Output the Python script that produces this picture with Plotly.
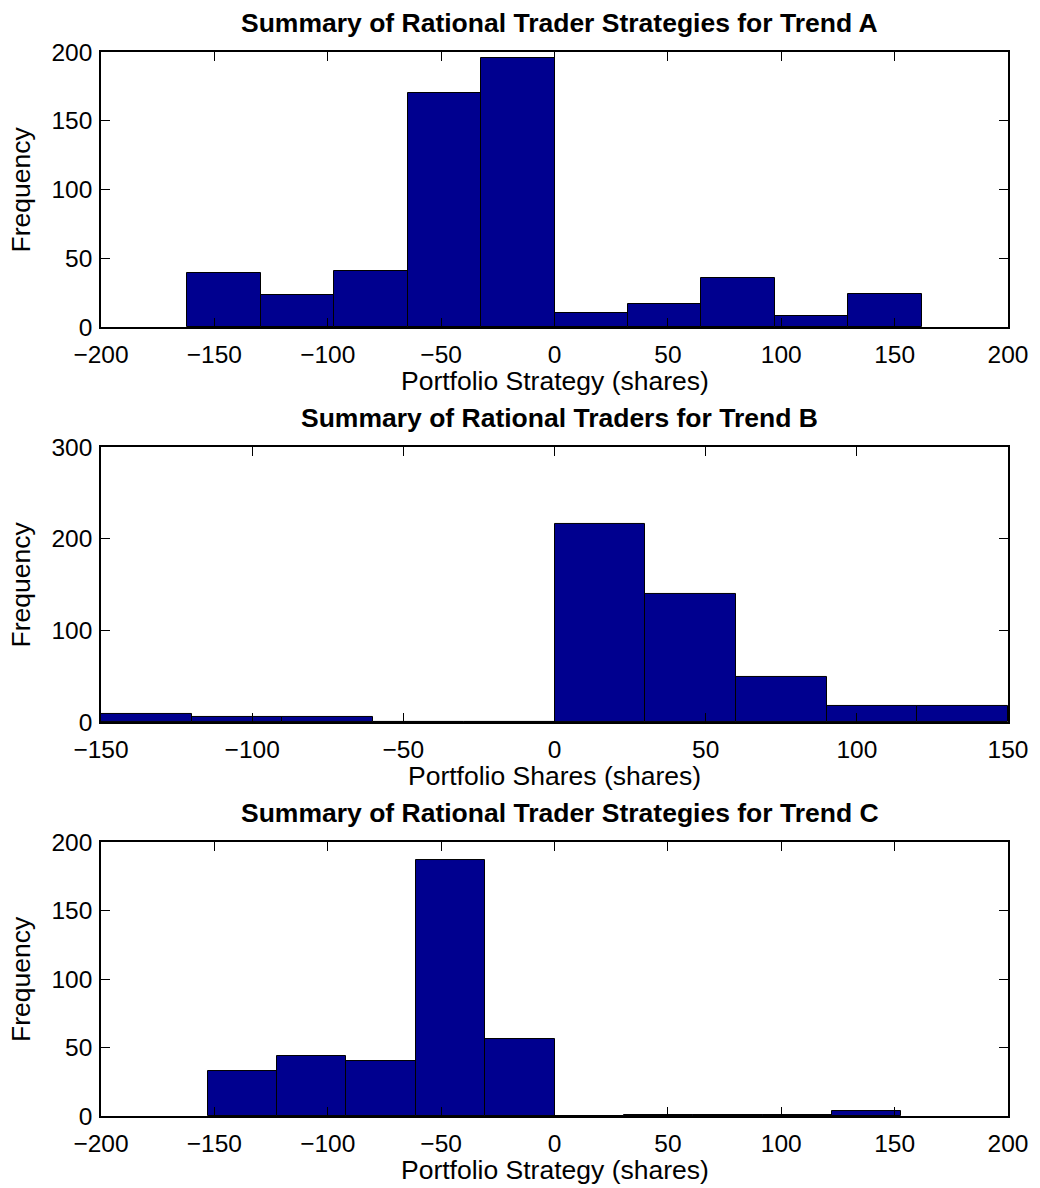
import plotly.graph_objects as go
from plotly.subplots import make_subplots

# ---- data ----
titles = ["Summary of Rational Trader Strategies for Trend A",
          "Summary of Rational Traders for Trend B",
          "Summary of Rational Trader Strategies for Trend C"]
xlabels = ["Portfolio Strategy (shares)",
           "Portfolio Shares (shares)",
           "Portfolio Strategy (shares)"]

a_centers = [-145.8, -113.4, -81.0, -48.6, -16.2, 16.2, 48.6, 81.0, 113.4, 145.8]
a_counts = [39, 23, 41, 170, 196, 10, 17, 36, 8, 24]
a_width = 32.4

b_centers = [-135, -105, -75, -45, -15, 15, 45, 75, 105, 135]
b_counts = [9, 5, 5, 0, 0, 216, 140, 49, 17, 17]
b_width = 30.0

c_centers = [-137.7, -107.1, -76.5, -45.9, -15.3, 15.3, 45.9, 76.5, 107.1, 137.7]
c_counts = [33, 44, 40, 187, 56, 0, 1, 1, 1, 4]
c_width = 30.6

x_ranges = [[-200, 200], [-150, 150], [-200, 200]]
x_ticks = [[-200, -150, -100, -50, 0, 50, 100, 150, 200],
           [-150, -100, -50, 0, 50, 100, 150],
           [-200, -150, -100, -50, 0, 50, 100, 150, 200]]
y_ranges = [[0, 200], [0, 300], [0, 200]]
y_ticks = [[0, 50, 100, 150, 200], [0, 100, 200, 300], [0, 50, 100, 150, 200]]

series = [(a_centers, a_counts, a_width),
          (b_centers, b_counts, b_width),
          (c_centers, c_counts, c_width)]

# ---- figure ----
W, H = 1040, 1188
ML, MR, MT, MB = 101, 27, 52, 72
domains = [[0.7415, 1.0], [0.3703, 0.6288], [0.0, 0.2575]]

FONT = "Liberation Sans, Arial, Helvetica, sans-serif"
BAR = "rgb(0,0,143)"

fig = make_subplots(rows=3, cols=1)

annotations = []
for i, (cx, cnt, w) in enumerate(series):
    r = i + 1
    fig.add_trace(go.Bar(x=cx, y=cnt, width=[w] * len(cx),
                         marker=dict(color=BAR, line=dict(color="black", width=1)),
                         showlegend=False, hoverinfo="x+y"), row=r, col=1)
    axsuf = "" if r == 1 else str(r)
    fig.update_layout(**{
        "xaxis" + axsuf: dict(domain=[0, 1], range=x_ranges[i], tickvals=x_ticks[i],
                              ticks="inside", ticklen=9, tickwidth=1, tickcolor="black",
                              showline=True, linecolor="black", linewidth=1.5,
                              mirror="ticks", showgrid=False, zeroline=False,
                              tickfont=dict(family=FONT, size=24.5, color="black"),
                              ticklabelstandoff=5),
        "yaxis" + axsuf: dict(domain=domains[i], range=y_ranges[i], tickvals=y_ticks[i],
                              ticks="inside", ticklen=9, tickwidth=1, tickcolor="black",
                              showline=True, linecolor="black", linewidth=1.5,
                              mirror="ticks", showgrid=False, zeroline=False,
                              tickfont=dict(family=FONT, size=24.5, color="black"),
                              ticklabelstandoff=2),
    })
    top = domains[i][1]
    bot = domains[i][0]
    mid = (top + bot) / 2
    annotations.append(dict(text="<b>" + titles[i] + "</b>", xref="paper", yref="paper",
                            x=0.5, y=top, xanchor="center", yanchor="middle",
                            xshift=5, yshift=29, showarrow=False,
                            font=dict(family=FONT, size=26.5, color="black")))
    annotations.append(dict(text=xlabels[i], xref="paper", yref="paper",
                            x=0.5, y=bot, xanchor="center", yanchor="middle",
                            yshift=-54, showarrow=False,
                            font=dict(family=FONT, size=26.5, color="black")))
    annotations.append(dict(text="Frequency", xref="paper", yref="paper",
                            x=0, y=mid, xanchor="center", yanchor="middle",
                            xshift=-80, textangle=-90, showarrow=False,
                            font=dict(family=FONT, size=26.5, color="black")))

fig.update_layout(width=W, height=H, margin=dict(l=ML, r=MR, t=MT, b=MB),
                  paper_bgcolor="white", plot_bgcolor="white",
                  bargap=0, annotations=annotations,
                  font=dict(family=FONT, color="black"))

fig.write_html("out.html", config={"displayModeBar": False},
               post_script="document.body.style.margin='0';document.body.style.padding='0';")
